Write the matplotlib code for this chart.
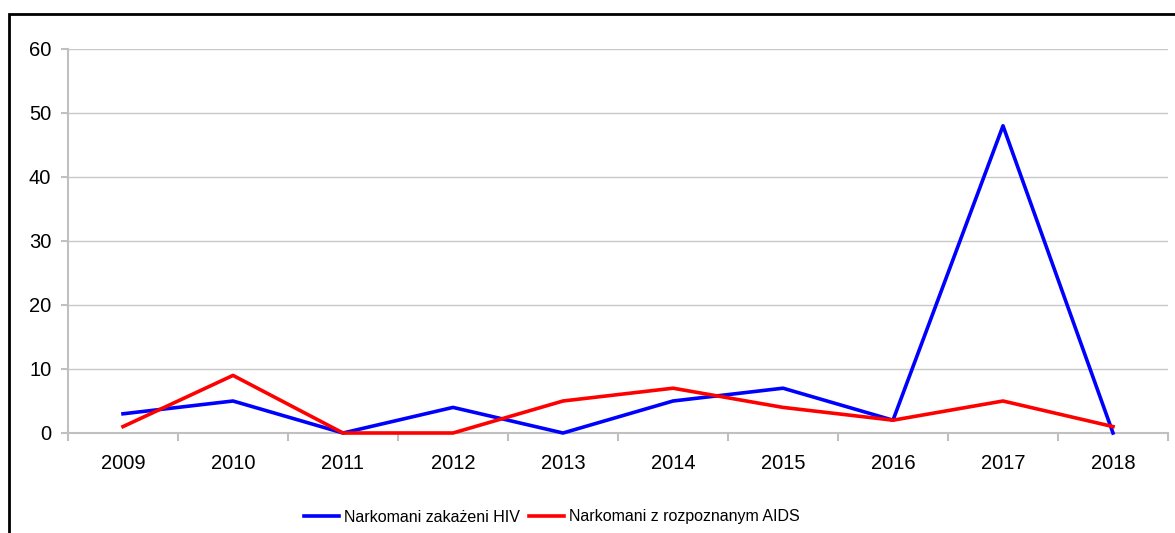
import matplotlib
matplotlib.use('Agg')
import matplotlib.pyplot as plt
from matplotlib.patches import Rectangle

plt.rcParams['font.family'] = ['Liberation Sans', 'DejaVu Sans']

years = ['2009', '2010', '2011', '2012', '2013', '2014', '2015', '2016', '2017', '2018']
hiv = [3, 5, 0, 4, 0, 5, 7, 2, 48, 0]
aids = [1, 9, 0, 0, 5, 7, 4, 2, 5, 1]

fig = plt.figure(figsize=(11.75, 5.33), dpi=100)
ax = fig.add_axes([68 / 1175, 1 - 433 / 533, 1100 / 1175, 384 / 533])

x = list(range(len(years)))
ax.plot(x, hiv, color='#0000FF', linewidth=2.6, label='Narkomani zakażeni HIV', zorder=3, clip_on=False)
ax.plot(x, aids, color='#FF0000', linewidth=2.6, label='Narkomani z rozpoznanym AIDS', zorder=3, clip_on=False)

ax.set_xlim(-0.5, len(years) - 0.5)
ax.set_ylim(0, 60)
ax.set_yticks(range(0, 61, 10))
ax.set_xticks(x)
ax.set_xticklabels(years)
ax.set_xticks([i - 0.5 for i in range(len(years) + 1)], minor=True)
ax.tick_params(axis='x', which='major', length=0, pad=15, labelsize=14.5)
ax.tick_params(axis='x', which='minor', length=6, color='#C0C0C0', width=1.5)
ax.tick_params(axis='y', length=5, color='#C0C0C0', width=1.5, pad=7, labelsize=14.5)

ax.grid(True, axis='y', color='#C8C8C8', linewidth=1)
ax.set_axisbelow(True)
for side in ['top', 'right']:
    ax.spines[side].set_visible(False)
for side in ['left', 'bottom']:
    ax.spines[side].set_color('#C0C0C0')
    ax.spines[side].set_linewidth(1.5)

leg = ax.legend(loc='center', bbox_to_anchor=(552 / 1175, (533 - 517) / 533), bbox_transform=fig.transFigure,
                ncol=2, frameon=False, handlelength=2.2, handletextpad=0.3, columnspacing=0.6,
                fontsize=11.5)

# outer frame (extends past the right and bottom edges)
fig.patches.append(Rectangle((9 / 1175, -0.1), 1.2, 1 - 14 / 533 + 0.1, transform=fig.transFigure,
                             fill=False, edgecolor='black', linewidth=2))

plt.savefig('out.png', dpi=100)
plt.close()
